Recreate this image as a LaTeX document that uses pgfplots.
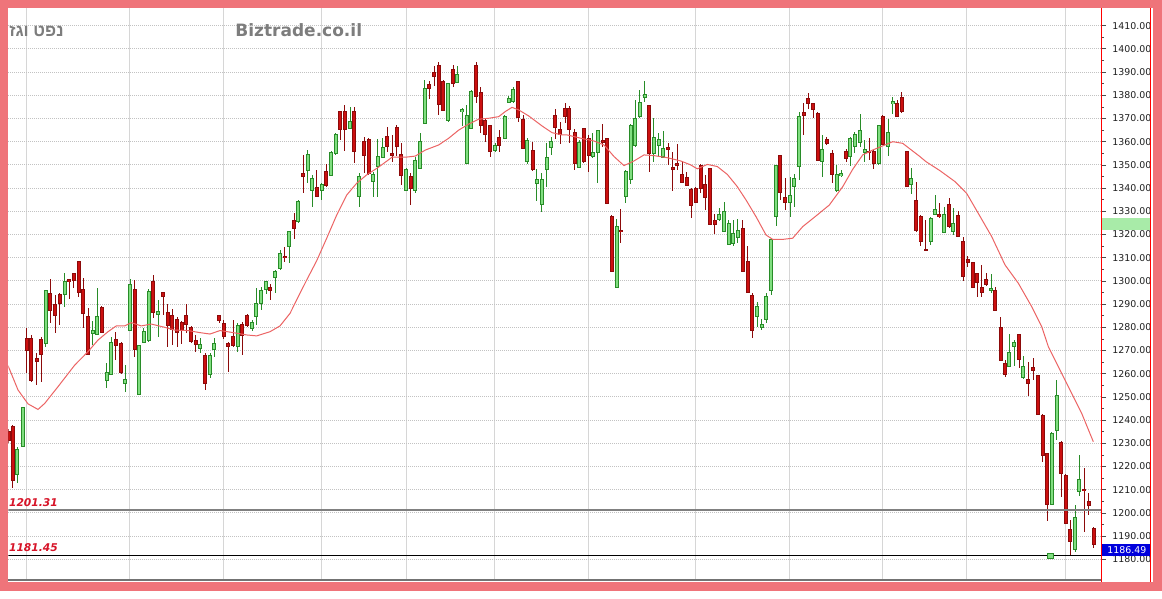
\documentclass[border=0pt]{standalone}
\usepackage{fontspec}
\setmainfont{DejaVu Sans}
\newfontfamily\heb[Script=Hebrew]{Liberation Sans}
\usepackage{pgfplots}
\usepackage{pgfplotstable}
\pgfplotsset{compat=1.18}
\TeXXeTstate=1

\definecolor{frame}{RGB}{239,116,122}
\definecolor{upfill}{RGB}{128,222,128}
\definecolor{upline}{RGB}{40,140,40}
\definecolor{dnfill}{RGB}{204,16,16}
\definecolor{dnline}{RGB}{140,10,10}
\definecolor{maline}{RGB}{236,100,100}
\definecolor{lblred}{RGB}{215,20,40}
\definecolor{txtgray}{RGB}{125,125,125}
\definecolor{boxgreen}{RGB}{168,235,168}
\definecolor{boxblue}{RGB}{0,0,220}

\newcommand{\tickfont}{\fontsize{4.7pt}{5pt}\selectfont}

% candles: t = pixel column, o h l c in index points
\pgfplotstableread{
t o h l c
17.3 1216.8 1228.6 1213.0 1227.4
22.7 1228.8 1245.8 1228.5 1245.2
45.7 1273.1 1296.3 1271.4 1295.8
64.7 1294.4 1303.3 1288.6 1299.7
92.7 1277.4 1282.9 1272.4 1278.5
97.3 1277.1 1296.8 1276.7 1284.6
106.7 1257.0 1264.7 1253.7 1260.4
111.3 1259.8 1275.7 1259.8 1273.4
125.3 1255.8 1263.8 1252.3 1257.6
130 1278.8 1300.7 1278.8 1298.2
139.3 1251.2 1272.3 1251.2 1271.9
143.7 1273.4 1279.6 1273.1 1278.1
148.7 1274.2 1296.4 1273.8 1295.4
158 1285.7 1291.8 1276.0 1286.7
200 1270.9 1275.2 1268.8 1272.4
210 1259.9 1268.8 1258.0 1267.6
214 1270.5 1275.2 1267.3 1272.8
237.7 1271.7 1281.7 1269.5 1280.6
252 1279.6 1283.2 1278.6 1282.0
256 1284.9 1296.8 1281.0 1290.1
261.3 1290.3 1297.5 1287.5 1295.8
266 1296.4 1299.7 1294.4 1299.5
275.3 1301.6 1304.7 1294.7 1304.0
280 1305.4 1313.3 1304.7 1311.9
289 1314.8 1321.6 1307.6 1321.2
298.3 1325.5 1334.9 1324.8 1334.2
307.7 1347.8 1356.4 1342.1 1354.3
312.3 1339.2 1345.7 1331.7 1344.2
321.7 1339.2 1342.1 1334.9 1341.3
331 1345.7 1356.1 1345.3 1355.3
335.7 1355.0 1363.6 1354.3 1362.9
350 1365.8 1375.1 1365.3 1368.5
359 1336.6 1346.4 1332.0 1344.9
373 1342.8 1346.8 1336.3 1345.7
377.7 1349.3 1361.0 1336.3 1353.6
382.7 1353.3 1361.5 1352.8 1357.6
406 1339.2 1348.5 1338.9 1348.1
415 1339.2 1353.5 1338.0 1351.8
420.3 1348.5 1363.9 1348.5 1360.0
424.7 1367.9 1386.6 1367.6 1383.0
448.3 1369.1 1385.5 1368.6 1385.2
457.3 1385.5 1392.6 1385.2 1388.8
462 1372.9 1374.4 1366.8 1373.7
466.7 1350.7 1375.8 1350.7 1371.1
471.3 1365.8 1382.3 1365.3 1381.6
495 1356.4 1359.5 1355.7 1358.1
504.7 1361.5 1371.5 1361.0 1370.8
508.7 1376.8 1379.7 1376.5 1378.7
513.3 1377.3 1383.4 1376.5 1382.6
527.3 1351.4 1361.5 1350.4 1360.5
536.7 1342.1 1348.1 1334.6 1343.8
541.7 1333.2 1346.4 1329.8 1343.8
546.7 1348.1 1359.3 1340.6 1353.3
551 1357.6 1361.9 1354.3 1360.0
579 1348.8 1360.7 1348.5 1359.7
592.7 1353.5 1363.6 1352.8 1355.4
597.7 1355.4 1365.0 1342.0 1364.6
616.7 1297.1 1326.7 1296.8 1323.4
625.7 1336.3 1347.8 1333.4 1347.1
630.7 1343.9 1367.5 1341.6 1366.9
635 1358.6 1378.0 1357.9 1370.1
639.7 1370.8 1382.3 1370.4 1377.0
644.7 1379.0 1386.2 1376.9 1380.1
653.7 1355.0 1370.1 1351.1 1361.7
658.7 1358.6 1363.6 1353.5 1360.7
663 1353.5 1364.6 1353.1 1357.1
719.3 1326.7 1331.3 1325.8 1328.4
724 1321.2 1334.2 1320.9 1329.8
728.7 1315.8 1326.2 1315.5 1324.8
733.3 1316.2 1326.2 1315.2 1320.5
737.7 1318.7 1326.5 1316.5 1321.8
757 1284.6 1291.1 1280.0 1288.9
761.7 1280.0 1283.6 1278.8 1281.0
766.3 1283.4 1294.9 1281.7 1293.2
771.3 1295.8 1318.4 1293.9 1317.9
776 1327.7 1349.5 1323.7 1349.5
790 1333.7 1344.9 1327.7 1336.6
794.3 1340.9 1346.1 1331.7 1344.2
799.3 1349.5 1373.0 1343.5 1370.8
822 1351.4 1362.9 1344.9 1356.7
836.7 1339.2 1350.0 1338.5 1345.7
841.3 1345.4 1347.8 1344.7 1346.1
850.3 1353.9 1361.9 1349.5 1361.5
854.7 1358.2 1364.3 1355.0 1362.9
860 1359.6 1372.0 1357.9 1364.8
864.7 1355.6 1360.7 1351.4 1356.7
878.7 1350.7 1367.2 1350.0 1366.8
888 1358.2 1369.6 1353.8 1363.9
892.7 1376.5 1379.1 1372.0 1377.3
911 1341.8 1348.5 1337.5 1344.2
930.7 1316.9 1327.4 1315.5 1327.0
935 1328.8 1337.0 1328.4 1330.6
944.3 1320.8 1331.7 1320.5 1328.4
953.3 1321.2 1331.3 1319.8 1324.8
991 1296.0 1302.8 1294.9 1296.6
1009.3 1263.0 1277.1 1262.7 1269.1
1014 1271.9 1274.6 1263.3 1273.4
1023.3 1258.4 1267.6 1257.6 1263.0
1051.7 1203.8 1235.0 1203.4 1234.3
1056.7 1235.4 1257.3 1231.4 1250.4
1075 1184.3 1203.4 1183.3 1198.1
1079 1209.2 1225.0 1207.4 1214.5
}\upTab

\pgfplotstableread{
t o h l c
9 1235.0 1236.0 1230.0 1231.4
13 1237.2 1237.9 1210.6 1214.2
26.7 1275.2 1279.6 1260.2 1269.9
31.3 1275.2 1276.7 1256.6 1257.3
36.7 1266.3 1268.8 1255.1 1265.5
41 1274.5 1276.0 1256.6 1268.5
50.3 1294.6 1300.7 1281.7 1287.5
55.3 1289.6 1293.9 1277.4 1285.3
59.7 1293.9 1294.9 1281.0 1290.3
69 1300.4 1300.7 1292.0 1299.7
73.7 1303.0 1303.3 1296.8 1300.1
78.7 1308.3 1308.6 1293.2 1294.9
83.3 1296.4 1301.1 1279.6 1286.0
88 1284.6 1288.2 1268.1 1268.5
101.7 1288.6 1289.0 1277.4 1277.7
115.7 1274.8 1278.1 1265.9 1272.4
121 1272.8 1273.8 1259.8 1260.4
134.7 1296.4 1300.4 1267.3 1270.5
153.3 1299.7 1302.5 1283.9 1286.3
163 1294.9 1295.4 1285.3 1293.2
167.7 1286.3 1290.0 1271.6 1281.0
172.3 1284.9 1287.7 1272.4 1279.1
177 1283.4 1284.6 1271.6 1277.7
181.7 1282.0 1282.9 1272.8 1278.8
186 1284.9 1290.0 1277.4 1281.4
191 1280.0 1280.6 1273.1 1273.8
195.7 1274.2 1276.7 1269.5 1272.8
205 1267.6 1268.8 1253.0 1255.9
219 1284.9 1285.3 1281.7 1283.2
223.7 1281.4 1283.2 1274.8 1276.3
228.3 1273.1 1273.8 1260.9 1271.7
233 1276.0 1283.2 1271.7 1272.4
242 1281.0 1282.4 1268.0 1276.7
247.3 1284.9 1285.7 1280.0 1281.0
270.3 1297.2 1298.6 1291.8 1295.8
284.7 1310.4 1314.8 1308.3 1310.0
294 1326.0 1329.1 1318.0 1322.7
303 1346.4 1354.3 1337.8 1345.2
316.7 1340.3 1347.8 1336.0 1336.3
326.3 1347.1 1350.4 1340.6 1341.3
340.3 1372.9 1373.4 1360.7 1365.3
344.7 1372.9 1375.8 1356.1 1365.3
354.3 1372.9 1375.1 1350.7 1355.7
364 1360.0 1362.2 1346.4 1354.3
368.7 1361.0 1361.5 1345.7 1346.4
387 1362.2 1366.5 1355.7 1357.9
392 1355.0 1362.9 1351.4 1354.1
396.7 1366.2 1367.2 1353.8 1357.9
401 1354.3 1359.5 1341.3 1345.6
410.7 1345.0 1346.7 1332.7 1339.9
429.3 1384.4 1386.3 1378.3 1383.0
434 1389.8 1392.6 1384.0 1388.0
438.7 1392.6 1394.5 1371.5 1376.2
443.3 1385.9 1386.6 1373.4 1373.7
453 1391.2 1393.1 1383.7 1385.2
476.3 1392.6 1394.5 1376.5 1379.7
480.7 1381.1 1383.7 1363.6 1367.2
485.3 1369.1 1370.1 1360.0 1363.3
490.3 1366.8 1367.2 1353.3 1355.7
499.3 1361.9 1365.0 1355.7 1358.6
518.3 1385.9 1386.3 1368.6 1370.5
523 1369.4 1371.5 1356.7 1357.2
532.7 1356.1 1360.0 1347.5 1348.1
555.3 1371.1 1374.0 1361.0 1366.2
560 1365.1 1368.6 1359.0 1363.3
565 1374.4 1376.5 1367.9 1370.8
569.3 1374.4 1375.5 1359.3 1365.5
574.7 1364.0 1365.5 1347.8 1350.7
583.7 1365.5 1365.8 1350.7 1351.7
588.7 1361.5 1362.9 1347.0 1354.3
602.7 1360.3 1367.5 1357.9 1359.9
607.3 1361.2 1361.5 1333.0 1333.3
611.7 1327.7 1328.4 1303.7 1304.0
620.7 1321.8 1331.0 1316.2 1321.3
649.3 1375.5 1375.8 1346.8 1355.0
668 1357.4 1359.3 1350.0 1356.9
672.7 1348.8 1355.4 1338.7 1348.2
677.3 1350.7 1358.9 1347.8 1349.7
682 1345.6 1351.1 1342.1 1342.5
686.7 1344.5 1346.8 1341.0 1341.3
691.3 1339.2 1339.9 1327.0 1332.7
695.7 1339.9 1340.6 1333.4 1333.9
700.7 1349.7 1350.2 1337.7 1339.9
705.3 1341.6 1345.6 1330.6 1335.9
710 1348.5 1348.8 1324.1 1324.4
714.7 1325.8 1328.7 1320.1 1324.4
742.7 1322.4 1326.2 1304.0 1304.3
747.7 1308.3 1315.0 1294.7 1294.9
752 1293.5 1294.9 1275.2 1278.5
780 1353.8 1354.3 1334.9 1338.0
785.3 1336.0 1344.2 1330.6 1333.7
803.7 1372.5 1376.8 1362.9 1371.5
808 1378.7 1381.1 1374.3 1376.5
813.3 1376.3 1376.8 1370.1 1374.0
817.7 1372.2 1372.9 1351.8 1352.1
826.7 1360.7 1362.2 1358.6 1359.3
832 1355.0 1356.4 1342.1 1346.1
846 1355.7 1356.7 1351.4 1352.8
869.3 1355.7 1361.5 1352.1 1355.3
873.7 1355.7 1356.4 1348.1 1350.7
882.7 1370.8 1371.5 1358.6 1359.0
897 1376.3 1378.0 1370.5 1371.1
901.7 1379.1 1381.6 1372.5 1372.9
906.7 1355.7 1356.1 1340.3 1340.9
916 1334.6 1342.8 1321.2 1321.7
920.5 1327.7 1328.4 1315.0 1316.9
925.5 1313.3 1326.2 1312.8 1313.0
939.3 1328.4 1333.4 1327.0 1327.7
949 1332.7 1335.6 1322.7 1323.4
958.3 1328.0 1330.3 1319.1 1319.4
963.3 1316.9 1318.8 1300.1 1302.1
967.7 1309.0 1310.7 1305.8 1307.9
972.7 1307.9 1308.3 1296.8 1297.2
977 1303.0 1303.3 1293.2 1299.2
981.7 1297.2 1306.9 1292.9 1294.9
986.3 1300.7 1303.5 1297.8 1298.7
995 1295.6 1297.2 1287.2 1287.5
1000.7 1280.0 1284.6 1265.6 1265.9
1005 1264.5 1265.9 1258.4 1259.9
1019 1276.7 1276.9 1262.3 1266.2
1028.3 1257.6 1265.2 1250.4 1255.9
1033 1262.7 1266.6 1257.3 1261.3
1037.7 1259.0 1259.4 1242.2 1242.6
1042.7 1241.8 1242.6 1222.1 1224.9
1047 1225.7 1226.0 1196.6 1203.8
1061 1230.3 1231.1 1207.0 1217.1
1065.7 1215.9 1216.8 1195.1 1195.5
1070.3 1192.6 1197.0 1181.9 1187.6
1084.3 1210.2 1219.2 1191.9 1209.6
1088.7 1204.8 1208.7 1199.1 1203.2
1093.7 1193.3 1194.0 1184.7 1186.5
}\dnTab

\pgfplotstableread{
t v
8 1263.5
18 1253.0
28 1247.0
38 1244.6
44.7 1247.2
58 1254.4
74.7 1263.7
88 1269.5
98 1274.5
108 1278.1
116.3 1280.6
124.7 1280.6
131.3 1282.0
141.3 1280.6
151.3 1281.4
164.7 1280.0
174.7 1278.8
188 1278.6
200 1277.7
210 1277.1
220 1278.6
233.3 1277.7
246.7 1276.7
256.7 1276.3
270 1278.1
280 1280.6
290 1286.0
296.7 1291.8
306.7 1300.4
316.7 1308.7
326.7 1318.4
336.7 1328.4
346.7 1337.0
356.7 1342.1
366.7 1345.7
378.5 1349.0
392 1353.3
405.3 1353.3
415.3 1353.8
425.3 1356.4
438.7 1358.6
448.7 1361.5
458.7 1365.0
468.7 1367.6
478.7 1369.7
488.7 1370.1
498.7 1370.8
505.3 1373.0
512 1374.8
518.7 1373.7
528.7 1371.1
542 1366.8
552 1363.9
562 1362.9
567.3 1362.9
580.7 1361.5
594 1360.3
604 1358.6
614 1353.6
624 1349.7
634 1351.7
644 1354.3
654 1354.0
667.3 1353.1
680.7 1351.7
690.7 1350.0
697.3 1348.3
707.3 1350.2
717.3 1349.3
727.3 1345.9
737 1340.8
746 1334.9
756 1327.7
766 1319.8
772.7 1317.9
782.7 1317.9
792.7 1318.4
802.7 1323.4
816 1328.0
829.3 1332.7
842.7 1340.6
852.7 1348.1
862.7 1354.3
872.7 1356.4
882.7 1358.2
892.7 1360.0
902.7 1359.3
909.3 1357.1
919.3 1353.8
926 1351.4
940 1347.5
955 1342.8
966.7 1337.7
978.3 1329.1
991.7 1319.1
1005 1306.9
1018.3 1299.0
1031.7 1288.9
1041.7 1280.3
1048.3 1271.7
1065 1257.3
1081.7 1242.9
1093.3 1230.7
}\maTab

\pgfplotsset{
  wick/.style={draw=none, mark=none, forget plot,
    error bars/.cd, y dir=both, y explicit, error mark=none,
    error bar style={draw=#1, line width=0.5pt}},
  body/.style={draw=none, mark=none, forget plot,
    error bars/.cd, y dir=both, y explicit, error mark=none,
    error bar style={draw=#1, line width=2pt}},
  core/.style={draw=none, mark=none, forget plot,
    error bars/.cd, y dir=both, y explicit, error mark=none,
    error bar style={draw=#1, line width=1.1pt}},
}

\begin{document}
\begin{tikzpicture}
\fill[frame] (-4.15pt,-5.5pt) rectangle (576.85pt,290pt);
\fill[white] (0pt,-0.75pt) rectangle (572.3pt,286pt);
\begin{axis}[
    at={(0pt,0pt)}, anchor=south west,
    scale only axis,
    width=546.35pt, height=286pt,
    xmin=8.3, xmax=1101,
    ymin=1171.08, ymax=1417.63,
    axis line style={draw=none},
    xtick={26.5,129.5,223,321.7,406.3,494.7,588.7,695.7,789.3,882.7,966.7,1065},
    xticklabels={},
    xtick style={draw=none},
    xmajorgrids, ymajorgrids,
    x grid style={color=black!16, line width=0.5pt},
    y grid style={color=black!24, line width=0.5pt, dash pattern=on 0.5pt off 0.5pt},
    ytick={1180,1190,...,1410},
    minor y tick num=1,
    ytick pos=right, yticklabel pos=right,
    tick align=outside,
    major tick length=2.5pt, minor tick length=1.5pt,
    ytick style={color=black!70, line width=0.4pt},
    scaled y ticks=false,
    /pgf/number format/fixed,
    /pgf/number format/fixed zerofill,
    /pgf/number format/precision=2,
    /pgf/number format/1000 sep={},
    /pgf/number format/assume math mode=true,
    yticklabel style={font=\tickfont, text=black!88, inner sep=0pt, anchor=west, xshift=3pt},
]
% wicks
\addplot[wick=upline] table[x=t, y expr={(\thisrow{h}+\thisrow{l})/2}, y error expr={(\thisrow{h}-\thisrow{l})/2}] {\upTab};
\addplot[wick=dnline] table[x=t, y expr={(\thisrow{h}+\thisrow{l})/2}, y error expr={(\thisrow{h}-\thisrow{l})/2}] {\dnTab};
% bodies
\addplot[body=upline] table[x=t, y expr={(\thisrow{o}+\thisrow{c})/2}, y error expr={abs(\thisrow{c}-\thisrow{o})/2+0.3}] {\upTab};
\addplot[core=upfill] table[x=t, y expr={(\thisrow{o}+\thisrow{c})/2}, y error expr={max(abs(\thisrow{c}-\thisrow{o})/2-0.15,0)}] {\upTab};
\addplot[body=dnline] table[x=t, y expr={(\thisrow{o}+\thisrow{c})/2}, y error expr={abs(\thisrow{c}-\thisrow{o})/2+0.3}] {\dnTab};
\addplot[core=dnfill] table[x=t, y expr={(\thisrow{o}+\thisrow{c})/2}, y error expr={max(abs(\thisrow{c}-\thisrow{o})/2-0.15,0)}] {\dnTab};
% moving average
\addplot[maline, line width=0.5pt, mark=none] table[x=t, y=v] {\maTab};
% support lines
\addplot[black!50, line width=0.8pt, mark=none] coordinates {(8.3,1201.31) (1101,1201.31)};
\addplot[black, line width=0.5pt, mark=none] coordinates {(8.3,1181.45) (1101,1181.45)};
\addplot[only marks, mark=square*, mark size=1.4pt, mark options={fill=upfill, draw=upline, line width=0.4pt}] coordinates {(1050.3,1181.45)};
\end{axis}
\draw[black!55, line width=1pt] (0pt,0pt) -- (546.35pt,0pt);
\draw[red, line width=0.5pt] (546.6pt,-0.75pt) -- (546.6pt,286pt);
\draw[red, line width=0.5pt] (571.1pt,-0.75pt) -- (571.1pt,286pt);
\fill[boxgreen] (546.85pt,175pt) rectangle (570.85pt,180.85pt);
\fill[boxblue] (546.85pt,12.25pt) rectangle (570.6pt,18pt);
\node[anchor=west, inner sep=0pt, text=white, font=\tickfont] at (549.35pt,15.1pt) {1186.49};
\node[anchor=base west, inner sep=0pt, text=lblred, font=\bfseries\itshape\fontsize{5.35pt}{6pt}\selectfont] at (0.2pt,37pt) {1201.31};
\node[anchor=base west, inner sep=0pt, text=lblred, font=\bfseries\itshape\fontsize{5.35pt}{6pt}\selectfont] at (0.2pt,14.5pt) {1181.45};
\node[anchor=base west, inner sep=0pt, text=txtgray, font=\heb\bfseries\fontsize{8.5pt}{9pt}\selectfont] at (0.3pt,271.5pt) {\beginR נפט וגז\endR};
\node[anchor=base west, inner sep=0pt, text=txtgray, font=\bfseries\fontsize{8.5pt}{9pt}\selectfont] at (113.35pt,271.75pt) {Biztrade.co.il};
\end{tikzpicture}
\end{document}
